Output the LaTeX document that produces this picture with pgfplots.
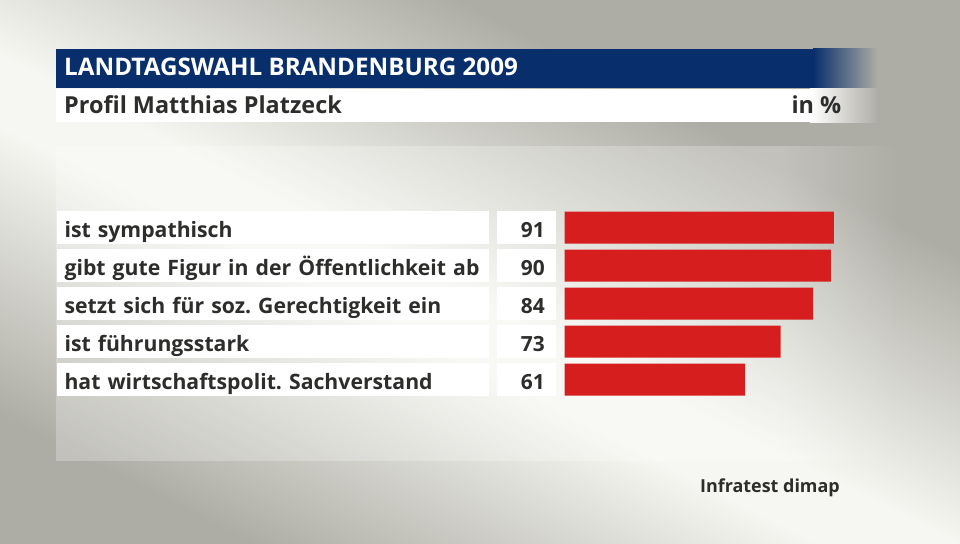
\documentclass[border=0pt]{standalone}
\usepackage{pgfplots}
\pgfplotsset{compat=1.18}
\usetikzlibrary{fadings}
\usepackage{fontspec}
\setmainfont{Open Sans}
\frenchspacing

\definecolor{navy}{RGB}{8,47,107}
\definecolor{barred}{RGB}{215,30,31}
\definecolor{txt}{RGB}{45,45,43}
\definecolor{bgdark}{RGB}{174,173,165}
\definecolor{bglight}{RGB}{246,247,242}

% diagonal light band of the background
\pgfdeclareverticalshading{band}{2400bp}{color(0bp)=(bgdark); color(270bp)=(bgdark);
  color(530bp)=(bglight); color(590bp)=(bglight); color(850bp)=(bgdark); color(1120bp)=(bgdark)}

\begin{document}
\begin{tikzpicture}
% background, drawn in pixel units (y downwards)
\begin{scope}[x=1bp,y=-1bp]
  \useasboundingbox (0,0) rectangle (960,544);
  \begin{scope}
    \clip (0,0) rectangle (960,544);
    \fill[bgdark] (0,0) rectangle (960,544);
    \pgftext[at={\pgfpoint{470bp}{-330bp}}, rotate=-27]{\pgfuseshading{band}}
  \end{scope}
  % lighter panel behind the rows
  \fill[white, opacity=0.25] (56,146) rectangle (780,461);
  \fill[white, opacity=0.25, path fading=east] (780,146) rectangle (900,461);
  % title bar
  \fill[navy] (56,49) rectangle (813,88);
  \shade[left color=navy, right color=bgdark] (813,49) rectangle (878,88);
  \fill[white] (56,89) rectangle (810,122.5);
  \shade[left color=white, right color=bgdark] (810,89) rectangle (878,122.5);
  \node[anchor=base west, inner sep=0pt, text=white, font=\fontsize{24.3}{28}\selectfont\bfseries]
    at (64,76) {LANDTAGSWAHL BRANDENBURG 2009};
  \node[anchor=base west, inner sep=0pt, text=txt, font=\fontsize{23.5}{28}\selectfont\bfseries]
    at (64,113.5) {Profil Matthias Platzeck};
  \node[anchor=base east, inner sep=0pt, text=txt, font=\fontsize{23.5}{28}\selectfont\bfseries]
    at (841.5,113.5) {in \%};
  \node[anchor=base east, inner sep=0pt, text=txt, font=\fontsize{18}{22}\selectfont\bfseries]
    at (840,492.5) {Infratest dimap};
\end{scope}

\begin{axis}[
    at={(564.5bp,-398.5bp)}, anchor=south west,
    scale only axis,
    width=296bp, height=190bp,
    xbar, bar width=32bp, bar shift=0pt,
    xmin=0, xmax=100,
    ymin=-0.5, ymax=4.5, y dir=reverse,
    axis line style={draw=none},
    tick style={draw=none},
    xtick=\empty,
    ytick={0,1,2,3,4},
    yticklabels={ist sympathisch, gibt gute Figur in der Öffentlichkeit ab,
        setzt sich für soz. Gerechtigkeit ein, ist führungsstark,
        hat wirtschaftspolit. Sachverstand},
    yticklabel style={anchor=east, xshift=-71bp, fill=white, text=txt,
        font=\fontsize{21.3}{24}\selectfont\bfseries,
        inner xsep=8bp, inner ysep=0pt, text width=416.5bp, align=left,
        minimum height=33bp, text height=24bp, text depth=5bp},
    /pgf/number format/assume math mode=true,
    clip=false,
]
    % bars
    \addplot[fill=barred, draw=none] coordinates {
        (91,0) (90,1) (84,2) (73,3) (61,4)
    };
    % value boxes, placed at the start of each bar
    \addplot[draw=none, fill=none,
        point meta=explicit,
        nodes near coords={\pgfmathprintnumber{\pgfplotspointmeta}},
        every node near coord/.style={anchor=east, xshift=-8.5bp, fill=white, text=txt,
            font=\fontsize{21}{24}\selectfont\bfseries,
            inner xsep=11bp, inner ysep=0pt, text width=36.5bp, align=right,
            minimum height=33bp, text height=24bp, text depth=5bp}
    ] coordinates {
        (0,0) [91] (0,1) [90] (0,2) [84] (0,3) [73] (0,4) [61]
    };
\end{axis}
\end{tikzpicture}
\end{document}
